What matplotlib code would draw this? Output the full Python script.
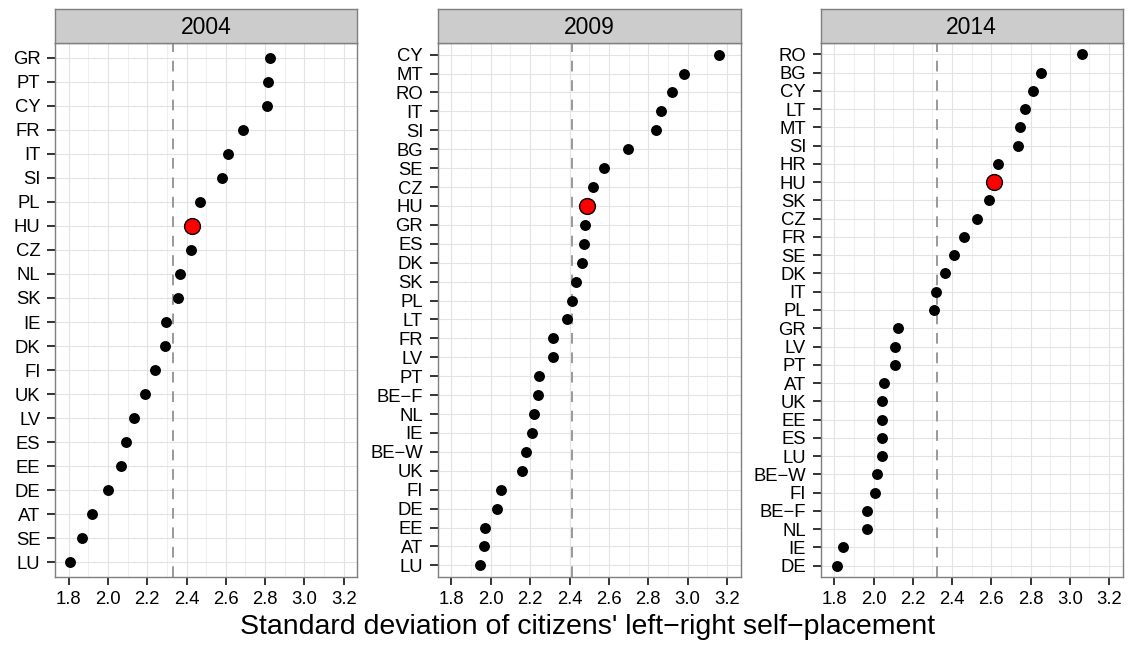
import matplotlib
matplotlib.use("Agg")
import matplotlib.pyplot as plt
from matplotlib.ticker import MultipleLocator

plt.rcParams['font.family'] = ['Liberation Sans', 'DejaVu Sans']

# Data listed from top to bottom of each panel
countries_2004 = ["GR", "PT", "CY", "FR", "IT", "SI", "PL", "HU", "CZ", "NL", "SK",
                  "IE", "DK", "FI", "UK", "LV", "ES", "EE", "DE", "AT", "SE", "LU"]
values_2004 = [2.824, 2.813, 2.808, 2.689, 2.611, 2.582, 2.470, 2.430, 2.422, 2.367, 2.359,
               2.295, 2.291, 2.239, 2.188, 2.132, 2.091, 2.066, 1.998, 1.920, 1.865, 1.805]
mean_2004 = 2.330

countries_2009 = ["CY", "MT", "RO", "IT", "SI", "BG", "SE", "CZ", "HU", "GR", "ES", "DK",
                  "SK", "PL", "LT", "FR", "LV", "PT", "BE\u2212F", "NL", "IE", "BE\u2212W",
                  "UK", "FI", "DE", "EE", "AT", "LU"]
values_2009 = [3.161, 2.984, 2.922, 2.867, 2.840, 2.699, 2.577, 2.518, 2.490, 2.479, 2.475, 2.465,
               2.435, 2.411, 2.389, 2.317, 2.316, 2.243, 2.239, 2.219, 2.209, 2.178,
               2.156, 2.054, 2.029, 1.971, 1.963, 1.946]
mean_2009 = 2.414

countries_2014 = ["RO", "BG", "CY", "LT", "MT", "SI", "HR", "HU", "SK", "CZ", "FR", "SE",
                  "DK", "IT", "PL", "GR", "LV", "PT", "AT", "UK", "EE", "ES", "LU",
                  "BE\u2212W", "FI", "BE\u2212F", "NL", "IE", "DE"]
values_2014 = [3.061, 2.852, 2.814, 2.772, 2.745, 2.735, 2.636, 2.612, 2.587, 2.526, 2.463, 2.409,
               2.364, 2.317, 2.308, 2.125, 2.108, 2.108, 2.055, 2.042, 2.042, 2.042, 2.042,
               2.016, 2.009, 1.968, 1.965, 1.844, 1.812]
mean_2014 = 2.325

years = ["2004", "2009", "2014"]
highlight = "HU"
x_ticks = [1.8, 2.0, 2.2, 2.4, 2.6, 2.8, 3.0, 3.2]

panels = [
    (countries_2004, values_2004, mean_2004),
    (countries_2009, values_2009, mean_2009),
    (countries_2014, values_2014, mean_2014),
]

fig = plt.figure(figsize=(11.3, 6.45), dpi=100)
W, H = 1130, 645
lefts = [55, 437.7, 820.7]
rights = [357.3, 740.7, 1122.7]
top_px, bottom_px = 43.3, 576.7
strip_top = 9.3

border_col = '#7F7F7F'
for (cats, vals, mean), year, l, r in zip(panels, years, lefts, rights):
    ax = fig.add_axes([l / W, 1 - bottom_px / H, (r - l) / W, (bottom_px - top_px) / H])
    n = len(cats)
    ypos = [n - 1 - i for i in range(n)]
    ax.set_xlim(1.73, 3.27)
    ax.set_ylim(-0.6, n - 1 + 0.6)
    ax.set_xticks(x_ticks)
    ax.set_xticklabels([f"{t:.1f}" for t in x_ticks])
    ax.xaxis.set_minor_locator(MultipleLocator(0.1))
    ax.set_yticks(ypos)
    ax.set_yticklabels(cats)
    ax.grid(True, which='major', color='#E3E3E3', linewidth=0.8)
    ax.grid(True, which='minor', axis='x', color='#EFEFEF', linewidth=0.8)
    ax.set_axisbelow(True)
    ax.tick_params(axis='both', which='major', length=6, width=1.4, color='#333333',
                   labelsize=13.3, labelcolor='black', pad=4.5)
    ax.tick_params(axis='x', which='minor', length=0)
    for s in ax.spines.values():
        s.set_color(border_col)
        s.set_linewidth(1.0)
    ax.axvline(mean, color='#999999', linestyle=(0, (5.5, 4.5)), linewidth=1.4, zorder=1.5)
    xs_black = [v for c, v in zip(cats, vals) if c != highlight]
    ys_black = [y for c, y in zip(cats, ypos) if c != highlight]
    ax.scatter(xs_black, ys_black, s=62, color='black', zorder=3, linewidths=0)
    xs_h = [v for c, v in zip(cats, vals) if c == highlight]
    ys_h = [y for c, y in zip(cats, ypos) if c == highlight]
    ax.scatter(xs_h, ys_h, s=130, facecolor='#FF0000', edgecolor='black', linewidths=1.0, zorder=4)

    sax = fig.add_axes([l / W, 1 - top_px / H, (r - l) / W, (top_px - strip_top) / H])
    sax.set_facecolor('#CCCCCC')
    sax.set_xticks([])
    sax.set_yticks([])
    for s in sax.spines.values():
        s.set_color(border_col)
        s.set_linewidth(1.0)
    sax.text(0.5, 0.47, year, ha='center', va='center', fontsize=16.5, transform=sax.transAxes)

fig.text(587.5 / W, 1 - 627 / H,
         "Standard deviation of citizens' left\u2212right self\u2212placement",
         ha='center', va='center', fontsize=20.5)

fig.savefig("out.png", dpi=100)
